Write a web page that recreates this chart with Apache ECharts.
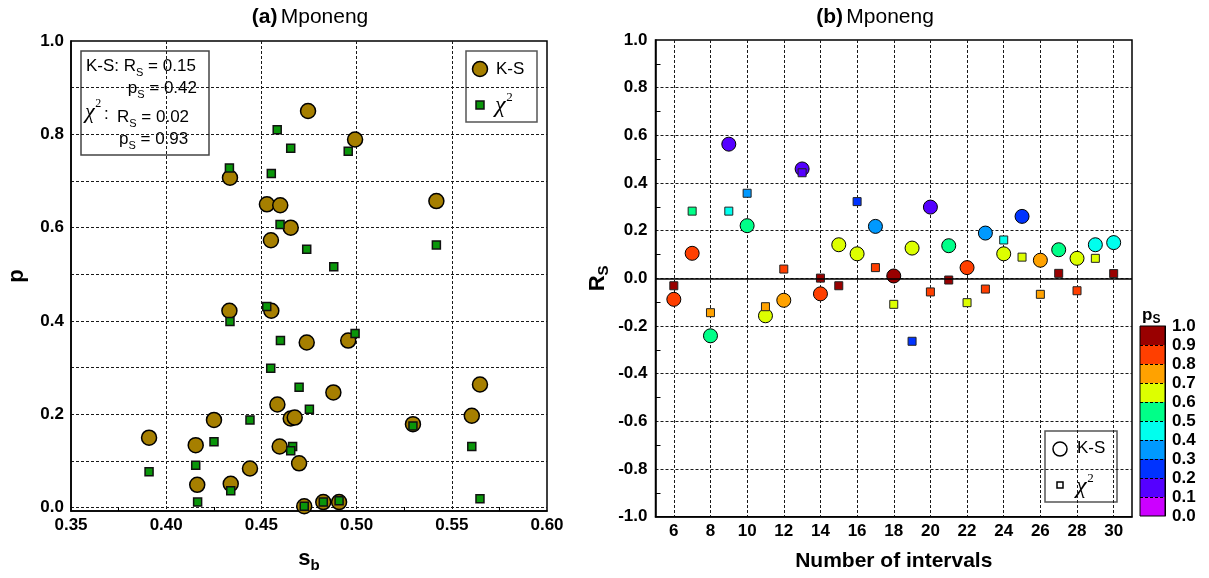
<!DOCTYPE html>
<html>
<head>
<meta charset="utf-8">
<script src="https://cdn.jsdelivr.net/npm/echarts@6/dist/echarts.min.js"></script>
<style>
  html, body { margin: 0; padding: 0; background: #fff; }
  #chart { width: 1209px; height: 578px; }
</style>
</head>
<body>
<div id="chart"></div>
<script>
// ---- Panel (a): burst parameter s_b against p-value, one point per interval count ----
const ksSb  = [0.4745, 0.4992, 0.4335, 0.4529, 0.4599, 0.4654, 0.4550, 0.5419, 0.4332, 0.4552,
               0.4738, 0.4956, 0.4878, 0.4584, 0.4251, 0.4654, 0.4675, 0.3910, 0.4155, 0.4596,
               0.4698, 0.4440, 0.4163, 0.4339, 0.4725, 0.4825, 0.4908, 0.5296, 0.5605, 0.5648];
const ksP   = [0.850, 0.789, 0.707, 0.650, 0.648, 0.600, 0.573, 0.657, 0.422, 0.422,
               0.354, 0.358, 0.247, 0.221, 0.188, 0.191, 0.193, 0.150, 0.134, 0.131,
               0.095, 0.084, 0.049, 0.051, 0.003, 0.012, 0.012, 0.179, 0.197, 0.264];
const chiSb = [0.4583, 0.4654, 0.4956, 0.4332, 0.4552, 0.4598, 0.4738, 0.4880, 0.5419, 0.4335,
               0.4528, 0.4600, 0.4992, 0.4549, 0.4698, 0.4752, 0.4440, 0.4251, 0.4664, 0.4654,
               0.4155, 0.3910, 0.4339, 0.4165, 0.4725, 0.4825, 0.4908, 0.5296, 0.5605, 0.5648];
const chiP  = [0.810, 0.770, 0.764, 0.728, 0.716, 0.607, 0.554, 0.516, 0.563, 0.399,
               0.431, 0.358, 0.373, 0.299, 0.258, 0.211, 0.188, 0.141, 0.131, 0.122,
               0.091, 0.077, 0.036, 0.012, 0.003, 0.012, 0.015, 0.175, 0.131, 0.019];

// Spearman summary shown in the panel (a) box: [R_S, p_S]
const ksSummary  = [0.15, 0.42];
const chiSummary = [0.02, 0.93];

// ---- Panel (b): Spearman R_S against number of intervals, coloured by p_S ----
const intervals = [6, 7, 8, 9, 10, 11, 12, 13, 14, 15, 16, 17, 18, 19, 20, 21, 22, 23, 24, 25, 26, 27, 28, 29, 30];
const ksRs  = [-0.088, 0.105, -0.241, 0.563, 0.221, -0.157, -0.092, 0.459, -0.065, 0.141,
               0.103, 0.218, 0.010, 0.127, 0.299, 0.137, 0.045, 0.190, 0.103, 0.260,
               0.076, 0.120, 0.084, 0.141, 0.15];
const ksPs  = [0.85, 0.85, 0.55, 0.15, 0.55, 0.65, 0.75, 0.15, 0.85, 0.65,
               0.65, 0.35, 0.95, 0.65, 0.15, 0.55, 0.85, 0.35, 0.65, 0.25,
               0.75, 0.55, 0.65, 0.45, 0.42];
const chiRs = [-0.031, 0.282, -0.144, 0.282, 0.357, -0.119, 0.039, 0.443, 0.001, -0.031,
               0.322, 0.045, -0.109, -0.264, -0.057, -0.007, -0.102, -0.045, 0.161, 0.089,
               -0.067, 0.021, -0.052, 0.084, 0.02];
const chiPs = [0.95, 0.55, 0.75, 0.45, 0.35, 0.75, 0.85, 0.15, 0.95, 0.95,
               0.25, 0.85, 0.65, 0.25, 0.85, 0.95, 0.65, 0.85, 0.45, 0.65,
               0.75, 0.95, 0.85, 0.65, 0.93];

// p_S colour scale: band edges and the colour of each band (low to high)
const psEdges  = [0, 0.1, 0.2, 0.3, 0.4, 0.5, 0.6, 0.7, 0.8, 0.9, 1.0];
const psColors = ['#cc00ff', '#5500ff', '#0033ff', '#0099ff', '#00ffee',
                  '#00ff88', '#ddff00', '#ffa200', '#ff3f00', '#990000'];

// ---- styling ----
const FONT  = '"Liberation Sans", Arial, Helvetica, sans-serif';
const SERIF = '"Liberation Serif", "Times New Roman", serif';

const axisText = { fontFamily: FONT, fontWeight: 'bold', fontSize: 17, color: '#000' };
const gridDash = {
  show: true, showMinLine: false, showMaxLine: false,
  lineStyle: { color: '#1a1a1a', type: [3, 2], width: 1 }
};
const frameLine = { show: true, onZero: false, lineStyle: { color: '#000', width: 1.5 } };
const subRich = {
  m: { fontFamily: FONT, fontWeight: 'bold', fontSize: 22, color: '#000', verticalAlign: 'top' },
  s: { fontFamily: FONT, fontWeight: 'bold', fontSize: 15, color: '#000', verticalAlign: 'top', padding: [10, 0, 0, 0] }
};
const boxRich = {
  m: { fontFamily: FONT, fontSize: 17, color: '#000', verticalAlign: 'top' },
  s: { fontFamily: FONT, fontSize: 11, color: '#000', verticalAlign: 'top', padding: [9, 0, 0, 0] }
};

// layout of the two panels
const A = { left: 71, top: 41, width: 476, height: 476 };        // frame, p from -0.02 to 1
const aDataH = A.height / 1.02;                                   // p from 0 to 1
const B = { left: 655.5, top: 40, width: 476.5, height: 476.7 }; // frame, intervals 5..31
const bUnit = B.width / 26;

const chart = echarts.init(document.getElementById('chart'), null, { renderer: 'canvas' });

const pieces = psColors.map((c, i) => (
  i === psColors.length - 1
    ? { gte: psEdges[i], lte: psEdges[i + 1], color: c }
    : { gte: psEdges[i], lt: psEdges[i + 1], color: c }
));

const colorbarSeries = psColors.map((c, i) => ({
  type: 'bar', xAxisIndex: 4, yAxisIndex: 4, stack: 'ps', silent: true,
  barWidth: '100%', data: [+(psEdges[i + 1] - psEdges[i]).toFixed(2)],
  itemStyle: { color: c }
}));

function chiLabel(x, y, size) {
  return [
    { type: 'text', x: x, y: y, style: { text: 'χ', font: 'italic ' + size + 'px ' + SERIF, fill: '#000', verticalAlign: 'middle' } },
    { type: 'text', x: x + size * 0.47, y: y - size * 0.36, style: { text: '2', font: Math.round(size * 0.55) + 'px ' + SERIF, fill: '#000', verticalAlign: 'middle' } }
  ];
}

const titleRich = {
  b: { fontFamily: FONT, fontWeight: 'bold', fontSize: 21, color: '#000' },
  n: { fontFamily: FONT, fontSize: 21, color: '#000' }
};

const option = {
  animation: false,
  backgroundColor: '#fff',
  grid: [
    { left: A.left, top: A.top, width: A.width, height: A.height, show: true, borderColor: '#000', borderWidth: 1.5, backgroundColor: 'transparent' },
    { left: A.left, top: A.top, width: A.width, height: aDataH },
    { left: B.left, top: B.top, width: B.width, height: B.height, show: true, borderColor: '#000', borderWidth: 1.5, backgroundColor: 'transparent' },
    { left: B.left + bUnit, top: B.top, width: bUnit * 24, height: B.height },
    { left: 1140, top: 326, width: 25, height: 190, show: true, borderColor: '#000', borderWidth: 1, backgroundColor: 'transparent', z: 10 }
  ],
  xAxis: [
    {
      gridIndex: 0, type: 'value', min: 0.35, max: 0.6, interval: 0.05,
      axisLine: frameLine,
      axisTick: { show: false, inside: true },
      minorTick: { show: true, splitNumber: 2, length: 4, lineStyle: { color: '#000' } },
      axisLabel: Object.assign({}, axisText, { margin: 6, formatter: v => v.toFixed(2) }),
      splitLine: gridDash,
      name: '{m|s}{s|b}', nameLocation: 'middle', nameGap: 37,
      nameTextStyle: { rich: subRich }
    },
    { gridIndex: 1, type: 'value', min: 0.35, max: 0.6, show: false },
    {
      gridIndex: 2, type: 'value', min: 5, max: 31,
      axisLine: frameLine, axisTick: { show: false }, axisLabel: { show: false }, splitLine: { show: false },
      name: 'Number of intervals', nameLocation: 'middle', nameGap: 34,
      nameTextStyle: { fontFamily: FONT, fontWeight: 'bold', fontSize: 21, color: '#000' }
    },
    {
      gridIndex: 3, type: 'value', min: 6, max: 30, interval: 2,
      axisLine: { show: false }, axisTick: { show: false },
      axisLabel: Object.assign({}, axisText, { margin: 6 }),
      splitLine: Object.assign({}, gridDash, { showMinLine: true, showMaxLine: true })
    },
    { gridIndex: 4, type: 'category', data: ['p'], show: false }
  ],
  yAxis: [
    {
      gridIndex: 0, type: 'value', min: -0.02, max: 1,
      axisLine: frameLine, axisTick: { show: false }, axisLabel: { show: false }, splitLine: { show: false },
      name: 'p', nameLocation: 'middle', nameGap: 43,
      nameTextStyle: { fontFamily: FONT, fontWeight: 'bold', fontSize: 22, color: '#000' }
    },
    {
      gridIndex: 1, type: 'value', min: 0, max: 1, interval: 0.1,
      axisLine: { show: false }, axisTick: { show: false },
      axisLabel: Object.assign({}, axisText, {
        margin: 7,
        formatter: v => (Math.round(v * 10) % 2 === 0 ? v.toFixed(1) : '')
      }),
      splitLine: Object.assign({}, gridDash, { showMinLine: true })
    },
    {
      gridIndex: 2, type: 'value', min: -1, max: 1, interval: 0.2,
      axisLine: frameLine,
      axisTick: { show: false, inside: true },
      minorTick: { show: true, splitNumber: 2, length: 5, lineStyle: { color: '#000' } },
      axisLabel: Object.assign({}, axisText, { margin: 8, formatter: v => v.toFixed(1) }),
      splitLine: gridDash,
      name: '{m|R}{s|S}', nameLocation: 'middle', nameGap: 44,
      nameTextStyle: { rich: subRich }
    },
    { gridIndex: 3, type: 'value', min: -1, max: 1, show: false },
    {
      gridIndex: 4, type: 'value', min: 0, max: 1, interval: 0.1, position: 'right', z: 10,
      axisLine: { show: true, lineStyle: { color: '#000', width: 1 } },
      axisTick: { show: false },
      axisLabel: Object.assign({}, axisText, { margin: 7, formatter: v => v.toFixed(1) }),
      splitLine: { show: true, showMinLine: false, showMaxLine: false, lineStyle: { color: '#000', type: [3, 2], width: 1 } }
    }
  ],
  visualMap: {
    type: 'piecewise', show: false, dimension: 2, seriesIndex: [3, 4], pieces: pieces
  },
  series: [
    {
      type: 'scatter', name: 'K-S', xAxisIndex: 1, yAxisIndex: 1, z: 3,
      symbol: 'circle', symbolSize: 15,
      itemStyle: { color: '#a67f00', borderColor: '#000', borderWidth: 1.5, opacity: 1 },
      data: ksSb.map((s, i) => [s, ksP[i]])
    },
    {
      type: 'scatter', name: 'χ2', xAxisIndex: 1, yAxisIndex: 1, z: 4,
      symbol: 'rect', symbolSize: 8,
      itemStyle: { color: '#0a960a', borderColor: '#111', borderWidth: 1.5, opacity: 1 },
      data: chiSb.map((s, i) => [s, chiP[i]])
    },
    {
      // R_S = 0 reference line across panel (b)
      type: 'line', xAxisIndex: 2, yAxisIndex: 2, data: [], z: 1,
      markLine: {
        silent: true, symbol: ['none', 'none'], label: { show: false },
        lineStyle: { color: '#000', type: 'solid', width: 1.5 },
        data: [{ yAxis: 0 }]
      }
    },
    {
      type: 'scatter', name: 'K-S', xAxisIndex: 3, yAxisIndex: 3, z: 3,
      symbol: 'circle', symbolSize: 14,
      itemStyle: { borderColor: '#000', borderWidth: 1, opacity: 1 },
      data: intervals.map((n, i) => [n, ksRs[i], ksPs[i]])
    },
    {
      type: 'scatter', name: 'χ2', xAxisIndex: 3, yAxisIndex: 3, z: 4,
      symbol: 'rect', symbolSize: 8,
      itemStyle: { borderColor: '#222', borderWidth: 1, opacity: 1 },
      data: intervals.map((n, i) => [n, chiRs[i], chiPs[i]])
    }
  ].concat(colorbarSeries),
  graphic: [
    // panel titles
    {
      type: 'text', x: 310, y: 17,
      style: { text: '{b|(a)} {n|Mponeng}', align: 'center', verticalAlign: 'middle', rich: titleRich }
    },
    {
      type: 'text', x: 875, y: 17,
      style: { text: '{b|(b)} {n|Mponeng}', align: 'center', verticalAlign: 'middle', rich: titleRich }
    },
    // Spearman summary box, panel (a)
    {
      type: 'group', children: [
        { type: 'rect', shape: { x: 81, y: 51, width: 128, height: 104 }, style: { fill: '#fff', stroke: '#444', lineWidth: 1.5 } },
        { type: 'text', x: 86, y: 58, style: { text: '{m|K-S: R}{s|S}{m| = ' + ksSummary[0].toFixed(2) + '}', rich: boxRich } },
        { type: 'text', x: 197, y: 80, style: { text: '{m|p}{s|S}{m| = ' + ksSummary[1].toFixed(2) + '}', align: 'right', rich: boxRich } },
        { type: 'text', x: 104, y: 114, style: { text: ':', font: '17px ' + FONT, fill: '#000', verticalAlign: 'middle' } },
        { type: 'text', x: 117, y: 109, style: { text: '{m|R}{s|S}{m| = ' + chiSummary[0].toFixed(2) + '}', rich: boxRich } },
        { type: 'text', x: 119, y: 131, style: { text: '{m|p}{s|S}{m| = ' + chiSummary[1].toFixed(2) + '}', rich: boxRich } }
      ].concat(chiLabel(85, 112, 22))
    },
    // legend, panel (a)
    {
      type: 'group', children: [
        { type: 'rect', shape: { x: 466, y: 51, width: 71, height: 71 }, style: { fill: '#fff', stroke: '#555', lineWidth: 1.5 } },
        { type: 'circle', shape: { cx: 480, cy: 69, r: 7.5 }, style: { fill: '#a67f00', stroke: '#000', lineWidth: 1.5 } },
        { type: 'text', x: 496, y: 69, style: { text: 'K-S', font: '17px ' + FONT, fill: '#000', verticalAlign: 'middle' } },
        { type: 'rect', shape: { x: 476, y: 101, width: 8, height: 8 }, style: { fill: '#0a960a', stroke: '#111', lineWidth: 1.5 } }
      ].concat(chiLabel(495, 106, 24))
    },
    // legend, panel (b)
    {
      type: 'group', children: [
        { type: 'rect', shape: { x: 1045, y: 431, width: 72, height: 71 }, style: { fill: '#fff', stroke: '#555', lineWidth: 1.5 } },
        { type: 'circle', shape: { cx: 1060, cy: 449, r: 7 }, style: { fill: '#fff', stroke: '#000', lineWidth: 1.5 } },
        { type: 'text', x: 1077, y: 448, style: { text: 'K-S', font: '17px ' + FONT, fill: '#000', verticalAlign: 'middle' } },
        { type: 'rect', shape: { x: 1057, y: 482, width: 6, height: 6 }, style: { fill: '#fff', stroke: '#000', lineWidth: 1.5 } }
      ].concat(chiLabel(1076, 487, 24))
    },
    // colour bar heading
    {
      type: 'text', x: 1142, y: 307,
      style: { text: '{m|p}{s|S}', rich: {
        m: { fontFamily: FONT, fontWeight: 'bold', fontSize: 17, color: '#000', verticalAlign: 'top' },
        s: { fontFamily: FONT, fontWeight: 'bold', fontSize: 12, color: '#000', verticalAlign: 'top', padding: [7, 0, 0, 0] }
      } }
    }
  ]
};

chart.setOption(option);
</script>
</body>
</html>
